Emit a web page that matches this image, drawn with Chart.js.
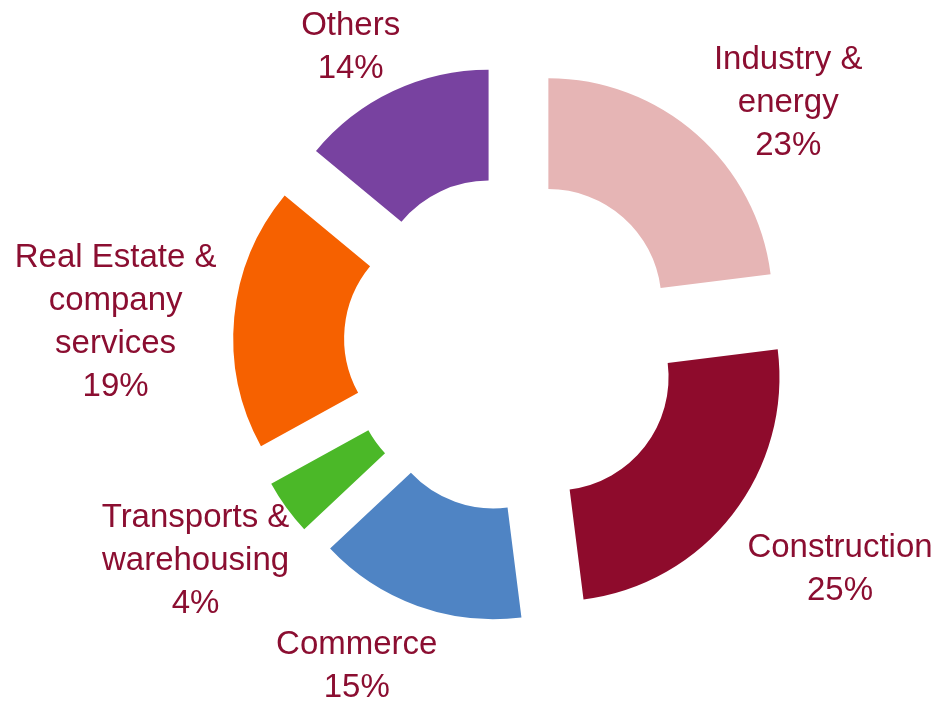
<!DOCTYPE html>
<html>
<head>
    <title>Sectors</title>
    <script src="https://cdn.jsdelivr.net/npm/chart.js"></script>
    <style>
        html, body { margin: 0; padding: 0; background: #fff; }
        #wrap { width: 939px; height: 701px; }
    </style>
</head>
<body>
<div id="wrap"><canvas id="sectorChart" width="939" height="701"></canvas></div>
<script>
    // data, clockwise from 12 o'clock
    const categories = [
        ['Industry &', 'energy'],
        ['Construction'],
        ['Commerce'],
        ['Transports &', 'warehousing'],
        ['Real Estate &', 'company', 'services'],
        ['Others']
    ];
    const shares = [23, 25, 15, 4, 19, 14];
    const colors = ['#E6B5B5', '#8E0B2C', '#4F84C4', '#4BB828', '#F66100', '#7842A0'];

    // label spot for each slice: [distance from centre, angle nudge in degrees]
    const labelSpots = [[366, 7.6], [398, -3.3], [358, 5.9], [384, 1.5], [397, -2.3], [337, -3.4]];
    const explode = 55;

    // pull every slice out along its middle angle (chart.js' own offset also grows thin slices)
    const explodeSlices = {
        id: 'explodeSlices',
        beforeDatasetDraw(chart, args) {
            const ctx = chart.ctx;
            args.meta.data.forEach(arc => {
                const mid = (arc.startAngle + arc.endAngle) / 2;
                ctx.save();
                ctx.translate(Math.cos(mid) * explode, Math.sin(mid) * explode);
                arc.draw(ctx, chart.chartArea);
                ctx.restore();
            });
            return false;
        }
    };

    const outsideLabels = {
        id: 'outsideLabels',
        afterDatasetsDraw(chart) {
            const ctx = chart.ctx;
            const arcs = chart.getDatasetMeta(0).data;
            ctx.save();
            ctx.font = '33px "Liberation Sans", Arial, sans-serif';
            ctx.fillStyle = '#8B0E31';
            ctx.textAlign = 'center';
            ctx.textBaseline = 'middle';
            const lh = 43;
            arcs.forEach((arc, i) => {
                const mid = (arc.startAngle + arc.endAngle) / 2 + labelSpots[i][1] * Math.PI / 180;
                const x = arc.x + Math.cos(mid) * labelSpots[i][0];
                const y = arc.y + Math.sin(mid) * labelSpots[i][0];
                const lines = categories[i].concat([shares[i] + '%']);
                const top = y - (lines.length - 1) * lh / 2;
                lines.forEach((t, k) => ctx.fillText(t, x, top + k * lh));
            });
            ctx.restore();
        }
    };

    new Chart(document.getElementById('sectorChart'), {
        type: 'doughnut',
        data: {
            labels: categories.map(c => c.join(' ')),
            datasets: [{
                data: shares,
                backgroundColor: colors,
                borderWidth: 0,
                hoverOffset: 0
            }]
        },
        options: {
            responsive: false,
            animation: false,
            radius: 224,
            cutout: '50.5%',
            layout: { padding: { top: 91, bottom: 105, left: 201, right: 116 } },
            plugins: {
                legend: { display: false },
                tooltip: { enabled: false }
            }
        },
        plugins: [explodeSlices, outsideLabels]
    });
</script>
</body>
</html>
